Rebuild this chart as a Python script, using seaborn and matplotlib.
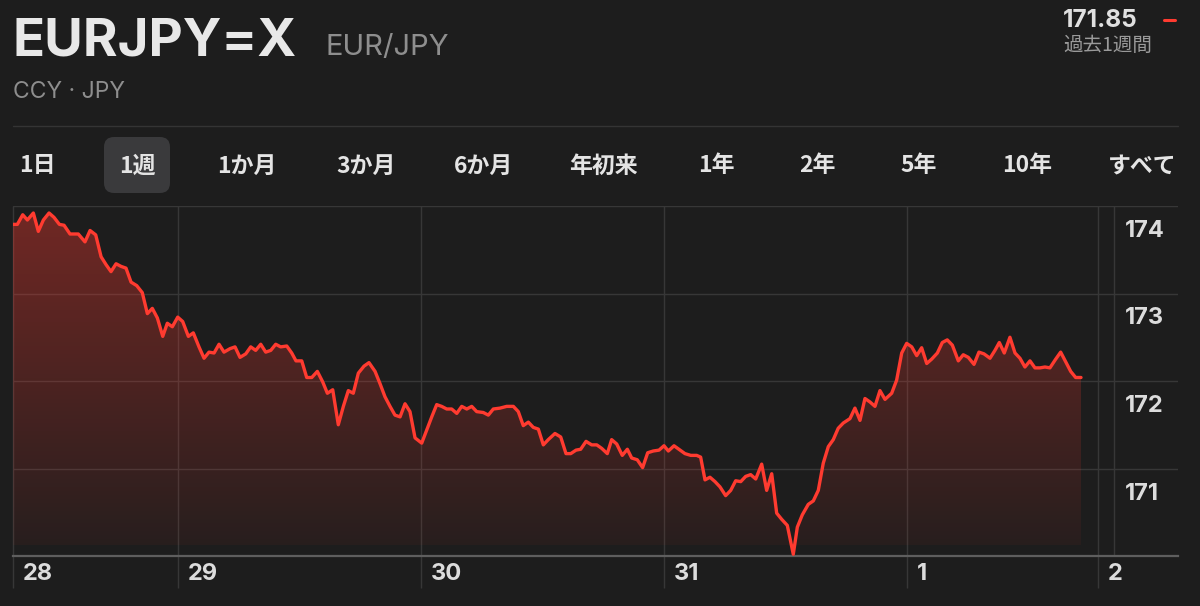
import matplotlib.pyplot as plt
import numpy as np
import seaborn as sns
from matplotlib import transforms
from matplotlib.lines import Line2D
from matplotlib.patches import FancyBboxPatch

# hours since 28th 00:00 and EUR/JPY price
hours = [
    7.67, 8.13, 8.66, 9.12, 9.71, 10.20, 10.70, 11.26, 11.75, 12.28,
    12.74, 13.33, 14.15, 14.81, 15.31, 15.87, 16.40, 16.89, 17.38, 17.88,
    18.37, 18.86, 19.36, 19.92, 20.47, 20.97, 21.46, 21.96, 22.49, 22.94,
    23.44, 23.97, 24.46, 25.02, 25.51, 26.07, 26.57, 27.06, 27.56, 28.05,
    28.54, 29.14, 29.63, 30.12, 30.69, 31.18, 31.67, 32.17, 32.66, 33.16,
    33.65, 34.14,
    34.74, 35.23, 35.65, 36.22, 36.71, 37.21, 37.76, 38.29, 38.75, 39.28,
    39.83, 40.33, 40.82, 41.31, 41.81, 42.37, 42.86, 43.46, 43.95, 44.44,
    44.94, 45.43, 45.93, 46.42, 46.91, 47.41, 48.07, 48.56, 49.06, 49.55,
    50.04, 50.54, 51.03, 51.53, 52.02, 52.52, 53.01, 53.50, 54.15, 54.65,
    55.14, 55.80, 56.46, 57.12, 57.61, 58.10, 58.60, 59.09, 59.59, 60.08,
    60.57,
    61.23, 61.80, 62.32, 62.79, 63.31, 63.77, 64.30, 64.86, 65.36, 65.85,
    66.40, 66.83, 67.33, 67.88, 68.38, 68.81, 69.36, 69.89, 70.39, 70.94,
    71.51, 72.00, 72.43, 72.99, 73.58, 74.07, 74.64, 75.23, 75.62, 76.05,
    76.54, 77.04, 77.53, 78.09, 78.59, 79.08, 79.58, 80.07, 80.56, 81.06,
    81.65, 82.14, 82.64, 83.13, 83.62, 84.18, 84.77, 85.17, 85.66, 86.25,
    86.75, 87.24,
    87.73, 88.23, 88.72, 89.21, 89.71, 90.37, 90.86, 91.36, 91.85, 92.35,
    92.84, 93.33, 93.83, 94.49, 94.98, 95.48, 95.97, 96.47, 96.96, 97.45,
    97.95, 98.44, 99.00, 99.49, 99.98, 100.48, 101.07, 101.56, 102.06, 102.62,
    103.11, 103.61, 104.20, 104.69, 105.12, 105.61, 106.17, 106.67, 107.16, 107.65,
    108.15, 108.64, 109.14, 109.63, 110.12, 110.69, 111.18, 111.67, 112.17, 112.66,
    113.19,
]
prices = [
    173.79, 173.79, 173.90, 173.84, 173.92, 173.71, 173.84, 173.92, 173.87, 173.79,
    173.78, 173.68, 173.68, 173.59, 173.72, 173.67, 173.42, 173.33, 173.25, 173.34,
    173.31, 173.29, 173.13, 173.09, 173.01, 172.77, 172.83, 172.72, 172.51, 172.66,
    172.62, 172.73, 172.68, 172.51, 172.55, 172.39, 172.26, 172.33, 172.32, 172.42,
    172.33, 172.37, 172.39, 172.27, 172.31, 172.39, 172.35, 172.42, 172.33, 172.35,
    172.42, 172.39,
    172.40, 172.32, 172.23, 172.23, 172.04, 172.04, 172.11, 171.99, 171.86, 171.90,
    171.50, 171.71, 171.89, 171.86, 172.09, 172.17, 172.21, 172.11, 171.97, 171.82,
    171.71, 171.61, 171.59, 171.74, 171.65, 171.35, 171.29, 171.44, 171.59, 171.73,
    171.71, 171.68, 171.68, 171.63, 171.71, 171.68, 171.71, 171.65, 171.64, 171.61,
    171.68, 171.69, 171.71, 171.71, 171.65, 171.49, 171.53, 171.47, 171.45, 171.27,
    171.33,
    171.40, 171.36, 171.17, 171.17, 171.21, 171.22, 171.31, 171.27, 171.27, 171.23,
    171.17, 171.33, 171.28, 171.15, 171.22, 171.12, 171.10, 171.01, 171.18, 171.20,
    171.21, 171.26, 171.20, 171.26, 171.21, 171.17, 171.15, 171.15, 171.13, 170.87,
    170.90, 170.85, 170.79, 170.69, 170.75, 170.86, 170.85, 170.91, 170.93, 170.88,
    171.05, 170.75, 170.94, 170.49, 170.42, 170.35, 170.02, 170.33, 170.47, 170.59,
    170.63, 170.75,
    171.06, 171.25, 171.33, 171.46, 171.52, 171.57, 171.69, 171.55, 171.80, 171.76,
    171.71, 171.89, 171.79, 171.86, 172.01, 172.32, 172.43, 172.39, 172.29, 172.38,
    172.20, 172.25, 172.32, 172.44, 172.47, 172.41, 172.23, 172.30, 172.27, 172.19,
    172.33, 172.31, 172.26, 172.35, 172.44, 172.32, 172.50, 172.32, 172.26, 172.16,
    172.23, 172.15, 172.15, 172.16, 172.15, 172.25, 172.33, 172.22, 172.11, 172.04,
    172.04,
]

day_ticks = [7.67, 24, 48, 72, 96, 114.85]
day_labels = ['28', '29', '30', '31', '1', '2']
price_ticks = [174, 173, 172, 171]
ranges = ['1日', '1週', '1か月', '3か月', '6か月', '年初来', '1年', '2年', '5年', '10年', 'すべて']
range_x = [37, 137, 247, 366, 483, 603, 716, 817, 919, 1027, 1142]
selected = '1週'

BG = '#1d1d1d'
RED = '#ff3b30'
GRID = '#373737'

sns.set_theme(style='dark')
plt.rcParams['font.family'] = ['Inter', 'Noto Sans CJK JP', 'DejaVu Sans']

fig = plt.figure(figsize=(12, 6.06), dpi=100, facecolor=BG)
W, H = 1200, 606


def fx(px):
    return px / W


def fy(py):
    return 1 - py / H


ax = fig.add_axes([fx(12.7), fy(556), fx(1178 - 12.7), 350 / H])
ax.set_facecolor(BG)
x_left, x_right = 7.67, 122.77
y_bottom, y_top = 170.0, 174.0

# grid lines
for v in price_ticks:
    ax.axhline(v, color=GRID, lw=1, zorder=0)
ax.vlines(day_ticks, -32 / 350, 1, color=GRID, lw=1,
          transform=ax.get_xaxis_transform(), clip_on=False, zorder=0)
ax.axvline(116.4, color=GRID, lw=1, zorder=0)

# gradient fill under the line
fill_floor = 170.12
poly = ax.fill_between(hours, prices, fill_floor, color='none', lw=0)
alpha = np.linspace(0.05, 0.38, 256)
grad = np.zeros((256, 1, 4))
grad[:, 0, :3] = [1.0, 0.23, 0.19]
grad[:, 0, 3] = alpha
img = ax.imshow(grad, extent=[hours[0], hours[-1], fill_floor, y_top],
                origin='lower', aspect='auto', zorder=1)
img.set_clip_path(poly.get_paths()[0], transform=ax.transData)

sns.lineplot(x=hours, y=prices, ax=ax, color=RED, lw=2.4, sort=False,
             estimator=None, zorder=3)

ax.set_xlim(x_left, x_right)
ax.set_ylim(y_bottom, y_top)
ax.set_xticks([])
ax.set_yticks([])
for side in ['top', 'right', 'left']:
    ax.spines[side].set_visible(False)
ax.spines['bottom'].set_color('#5e5e5e')
ax.spines['bottom'].set_linewidth(1.6)
ax.grid(False)

# day labels
day_tr = transforms.offset_copy(ax.get_xaxis_transform(), fig=fig, x=10, y=0, units='dots')
for h, lab in zip(day_ticks, day_labels):
    ax.text(h, -18 / 350, lab, transform=day_tr, ha='left', va='center',
            fontsize=17, fontweight='bold', color='#dcdcdc')

# price labels, below their grid lines
price_tr = transforms.offset_copy(
    transforms.blended_transform_factory(ax.transAxes, ax.transData),
    fig=fig, x=0, y=-25, units='dots')
for v in price_ticks:
    ax.text((1125 - 12.7) / 1165.3, v, str(v), transform=price_tr, ha='left',
            va='center', fontsize=17, fontweight='bold', color='#dcdcdc')

# header
fig.text(fx(12), fy(55), 'EURJPY=X', fontsize=38, fontweight='bold',
         color='#e8e8e8', va='baseline')
fig.text(fx(325), fy(55), 'EUR/JPY', fontsize=21, color='#8e8e8e', va='baseline')
fig.text(fx(13), fy(98), 'CCY · JPY', fontsize=16.5, color='#8e8e8e', va='baseline')
fig.text(fx(1063), fy(27), '171.85', fontsize=17.5, fontweight='bold',
         color='#e0e0e0', va='baseline')
fig.add_artist(Line2D([fx(1164), fx(1175)], [fy(20), fy(20)], color=RED, lw=2.2))
fig.text(fx(1063), fy(45), '過去1週間', fontsize=14, color='#9a9a9a', va='center',
         family=['Noto Sans CJK JP', 'DejaVu Sans'])
fig.add_artist(Line2D([fx(12.7), fx(1178)], [fy(125.5), fy(125.5)], color='#343434', lw=1))

# range selector
r = 0.1
fig.add_artist(FancyBboxPatch((1.04 + r, (H - 193) / 100 + r), 0.66 - 2 * r, 0.56 - 2 * r,
                              boxstyle=f'round,pad={r},rounding_size={r}',
                              transform=fig.dpi_scale_trans, fc='#3a3a3c', ec='none'))
for lab, px in zip(ranges, range_x):
    fig.text(fx(px), fy(166), lab, fontsize=16.5, ha='center', va='center',
             fontweight='bold', color='#e4e4e4',
             family=['Noto Sans CJK JP', 'DejaVu Sans'])

fig.savefig('out.png', dpi=100, facecolor=BG)
